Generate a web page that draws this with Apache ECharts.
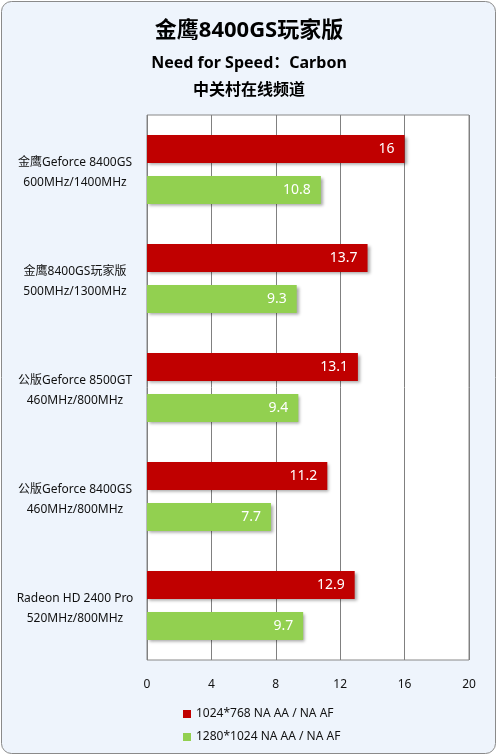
<!DOCTYPE html>
<html>
<head>
<meta charset="utf-8">
<script src="https://cdn.jsdelivr.net/npm/echarts@6/dist/echarts.min.js"></script>
<style>
  html, body { margin: 0; padding: 0; background: #fff; }
  #container { width: 498px; height: 756px; }
</style>
</head>
<body>
<div id="container"></div>
<script>
// 数据
var categories = [
    '金鹰Geforce 8400GS\n600MHz/1400MHz',
    '金鹰8400GS玩家版\n500MHz/1300MHz',
    '公版Geforce 8500GT\n460MHz/800MHz',
    '公版Geforce 8400GS\n460MHz/800MHz',
    'Radeon HD 2400 Pro\n520MHz/800MHz'
];
var seriesNames = ['1024*768 NA AA / NA AF', '1280*1024 NA AA / NA AF'];
var res1024 = [16, 13.7, 13.1, 11.2, 12.9];
var res1280 = [10.8, 9.3, 9.4, 7.7, 9.7];

var FONT = '"Noto Sans", "Noto Sans CJK SC", sans-serif';
var myChart = echarts.init(document.getElementById('container'));

var barLabel = {
    show: true,
    position: 'insideRight',
    distance: 10,
    color: '#fff',
    fontSize: 14,
    fontFamily: FONT
};

var option = {
    animation: false,
    backgroundColor: '#fff',
    textStyle: { fontFamily: FONT },
    graphic: [
        {
            type: 'rect',
            z: -10,
            shape: { x: 1.5, y: 1.5, width: 494, height: 752, r: 10 },
            style: { fill: '#EEF4FC', stroke: '#8a8a8a', lineWidth: 1 }
        },
        {
            type: 'text', left: 'center', top: 20,
            style: { text: '金鹰8400GS玩家版', font: 'bold 22px ' + FONT, fill: '#000' }
        },
        {
            type: 'text', left: 'center', top: 55,
            style: { text: 'Need for Speed：Carbon', font: 'bold 16px ' + FONT, fill: '#000' }
        },
        {
            type: 'text', left: 'center', top: 82,
            style: { text: '中关村在线频道', font: 'bold 16px ' + FONT, fill: '#000' }
        }
    ],
    grid: {
        left: 147,
        right: 29,
        top: 115,
        bottom: 96,
        show: true,
        backgroundColor: '#fff',
        borderColor: '#888',
        borderWidth: 1
    },
    legend: {
        orient: 'vertical',
        left: 178,
        top: 703,
        itemWidth: 8,
        itemHeight: 8,
        itemGap: 11,
        icon: 'rect',
        textStyle: { fontSize: 12, color: '#111', fontFamily: FONT },
        data: seriesNames
    },
    xAxis: {
        type: 'value',
        min: 0,
        max: 20,
        interval: 4,
        axisLine: { show: false },
        axisTick: { show: false },
        axisLabel: { margin: 19, fontSize: 12, color: '#111', fontFamily: FONT },
        splitLine: { show: true, lineStyle: { color: '#808080', width: 1 } }
    },
    yAxis: {
        type: 'category',
        inverse: true,
        data: categories,
        axisLine: { show: false },
        axisTick: { show: false },
        axisLabel: {
            // 居中对齐，用 margin 调整水平位置
            margin: 72,
            align: 'center',
            color: '#111',
            formatter: function (v) {
                var parts = v.split('\n');
                return '{a|' + parts[0] + '}\n{b|' + parts[1] + '}';
            },
            rich: {
                // 用上边距把两行拉开并整体下移
                a: { fontSize: 12, lineHeight: 24, padding: [11, 0, 0, 0], color: '#111', fontFamily: FONT },
                b: { fontSize: 12, lineHeight: 24, padding: [3, 0, 0, 0], color: '#111', fontFamily: FONT }
            }
        }
    },
    series: [
        {
            name: seriesNames[0],
            type: 'bar',
            data: res1024,
            barWidth: 28,
            barGap: '46%',
            itemStyle: {
                color: '#C00000',
                shadowColor: 'rgba(0,0,0,0.35)',
                shadowBlur: 3,
                shadowOffsetX: 2,
                shadowOffsetY: 2
            },
            label: barLabel
        },
        {
            name: seriesNames[1],
            type: 'bar',
            data: res1280,
            barWidth: 28,
            itemStyle: {
                color: '#92D050',
                shadowColor: 'rgba(0,0,0,0.35)',
                shadowBlur: 3,
                shadowOffsetX: 2,
                shadowOffsetY: 2
            },
            label: barLabel
        }
    ]
};
myChart.setOption(option);
</script>
</body>
</html>
